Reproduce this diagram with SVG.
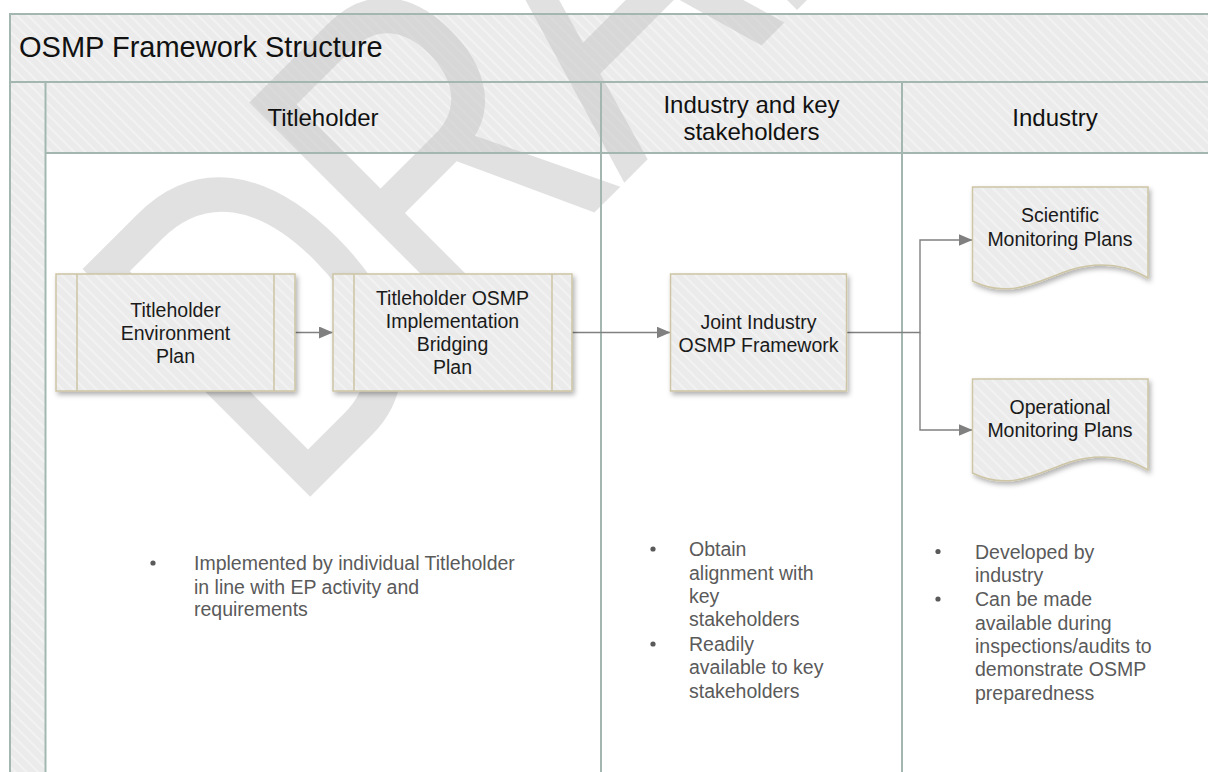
<svg xmlns="http://www.w3.org/2000/svg" width="1208" height="772" viewBox="0 0 1208 772">
<style>
.pool{fill:none;stroke:#a3b7b0;stroke-width:2}
.hdr{fill:url(#hatch)}
.box{fill:url(#hatch);stroke:#cdc5a5;stroke-width:1.5}
.inner{stroke:#cdc5a5;stroke-width:1.5;fill:none}
.lbl{font-family:"Liberation Sans",Arial,sans-serif;font-size:19.5px;fill:#1a1a1a;text-anchor:middle}
.hd{font-family:"Liberation Sans",Arial,sans-serif;font-size:24px;fill:#111;text-anchor:middle}
.bul{font-family:"Liberation Sans",Arial,sans-serif;font-size:19.5px;fill:#5a5a5a}
.dot{fill:#5a5a5a}
.con{fill:none;stroke:#808080;stroke-width:1.4}
.wm{font-family:"Liberation Sans",Arial,sans-serif;font-size:468px;fill:#c4c4c4;opacity:0.5;letter-spacing:-15px}
</style>
<defs>
<pattern id="hatch" width="8" height="8" patternUnits="userSpaceOnUse" patternTransform="rotate(-45)">
<rect width="8" height="8" fill="#ebebeb"/>
<rect width="2" height="8" fill="#f2f2f2"/>
</pattern>
<marker id="arrL" viewBox="0 0 14 12" refX="14" refY="6" markerWidth="14" markerHeight="12" markerUnits="userSpaceOnUse" orient="auto">
<path d="M0,0 L14,6 L0,12 Z" fill="#808080"/>
</marker>
<filter id="sh" x="-10%" y="-10%" width="130%" height="140%">
<feDropShadow dx="2" dy="3" stdDeviation="2.5" flood-color="#000" flood-opacity="0.3"/>
</filter>
<filter id="hsh" x="0" y="-50%" width="100%" height="300%">
<feGaussianBlur stdDeviation="1.5"/>
</filter>
</defs>
<rect width="1208" height="772" fill="#fff"/>

<g id="pool">
<rect x="10" y="14" width="1202" height="68" class="hdr"/>
<rect x="10" y="82" width="35.5" height="700" class="hdr"/>
<rect x="45.5" y="82" width="1166" height="71" class="hdr"/>
</g>

<text class="wm" transform="translate(290.4,516.6) rotate(-45) scale(0.73,1)">DRAFT</text>

<g id="lanes">
<line x1="45.5" y1="155" x2="1212" y2="155" stroke="#000" stroke-opacity="0.12" stroke-width="3" filter="url(#hsh)"/>
<rect x="10" y="14" width="1202" height="770" class="pool"/>
<line x1="10" y1="82" x2="1212" y2="82" class="pool"/>
<line x1="45.5" y1="82" x2="45.5" y2="784" class="pool"/>
<line x1="45.5" y1="153" x2="1212" y2="153" class="pool"/>
<line x1="601" y1="82" x2="601" y2="784" class="pool"/>
<line x1="902" y1="82" x2="902" y2="784" class="pool"/>
<text x="19" y="57" font-family="Liberation Sans, Arial, sans-serif" font-size="29" fill="#111">OSMP Framework Structure</text>
<text x="323" y="126" class="hd">Titleholder</text>
<text x="751.5" y="113" class="hd">Industry and key</text>
<text x="751.5" y="140" class="hd">stakeholders</text>
<text x="1055" y="126" class="hd">Industry</text>
</g>

<g id="connectors">
<line x1="295" y1="332.5" x2="333" y2="332.5" class="con" marker-end="url(#arrL)"/>
<line x1="572" y1="332.5" x2="670.5" y2="332.5" class="con" marker-end="url(#arrL)"/>
<polyline points="846.5,332.5 920,332.5 920,240 972.5,240" class="con" marker-end="url(#arrL)"/>
<polyline points="920,332.5 920,430 972.5,430" class="con" marker-end="url(#arrL)"/>
</g>

<g id="n1">
<rect x="56" y="274" width="239" height="117" class="box" filter="url(#sh)"/>
<line x1="77" y1="274" x2="77" y2="391" class="inner"/>
<line x1="274" y1="274" x2="274" y2="391" class="inner"/>
<text class="lbl"><tspan x="175.5" y="316.5">Titleholder</tspan><tspan x="175.5" y="340">Environment</tspan><tspan x="175.5" y="363">Plan</tspan></text>
</g>

<g id="n2">
<rect x="333" y="274" width="239" height="117" class="box" filter="url(#sh)"/>
<line x1="354" y1="274" x2="354" y2="391" class="inner"/>
<line x1="552" y1="274" x2="552" y2="391" class="inner"/>
<text class="lbl"><tspan x="452.5" y="305">Titleholder OSMP</tspan><tspan x="452.5" y="328">Implementation</tspan><tspan x="452.5" y="351">Bridging</tspan><tspan x="452.5" y="374">Plan</tspan></text>
</g>

<g id="n3">
<rect x="670.5" y="274" width="176" height="117" class="box" filter="url(#sh)"/>
<text class="lbl"><tspan x="758.5" y="329">Joint Industry</tspan><tspan x="758.5" y="352">OSMP Framework</tspan></text>
</g>

<g id="n4">
<path d="M972.5,187 H1148 V278 C1125,264 1100,261 1070,270 C1040,280 1010,300 972.5,281 Z" class="box" filter="url(#sh)"/>
<text class="lbl"><tspan x="1060" y="222">Scientific</tspan><tspan x="1060" y="246">Monitoring Plans</tspan></text>
</g>

<g id="n5">
<path d="M972.5,379 H1148 V470 C1125,456 1100,453 1070,462 C1040,472 1010,492 972.5,473 Z" class="box" filter="url(#sh)"/>
<text class="lbl"><tspan x="1060" y="414">Operational</tspan><tspan x="1060" y="437">Monitoring Plans</tspan></text>
</g>

<g id="notes1">
<circle cx="153" cy="563" r="2.6" class="dot"/>
<text class="bul"><tspan x="194" y="570">Implemented by individual Titleholder</tspan><tspan x="194" y="593.5">in line with EP activity and</tspan><tspan x="194" y="616">requirements</tspan></text>
</g>

<g id="notes2">
<circle cx="653" cy="549" r="2.6" class="dot"/>
<circle cx="653" cy="644" r="2.6" class="dot"/>
<text class="bul"><tspan x="689" y="556">Obtain</tspan><tspan x="689" y="580">alignment with</tspan><tspan x="689" y="603">key</tspan><tspan x="689" y="626">stakeholders</tspan><tspan x="689" y="651">Readily</tspan><tspan x="689" y="674">available to key</tspan><tspan x="689" y="698">stakeholders</tspan></text>
</g>

<g id="notes3">
<circle cx="938" cy="551.5" r="2.6" class="dot"/>
<circle cx="938" cy="599" r="2.6" class="dot"/>
<text class="bul"><tspan x="975" y="558.5">Developed by</tspan><tspan x="975" y="582">industry</tspan><tspan x="975" y="606">Can be made</tspan><tspan x="975" y="629.5">available during</tspan><tspan x="975" y="653">inspections/audits to</tspan><tspan x="975" y="676">demonstrate OSMP</tspan><tspan x="975" y="699.5">preparedness</tspan></text>
</g>
</svg>
